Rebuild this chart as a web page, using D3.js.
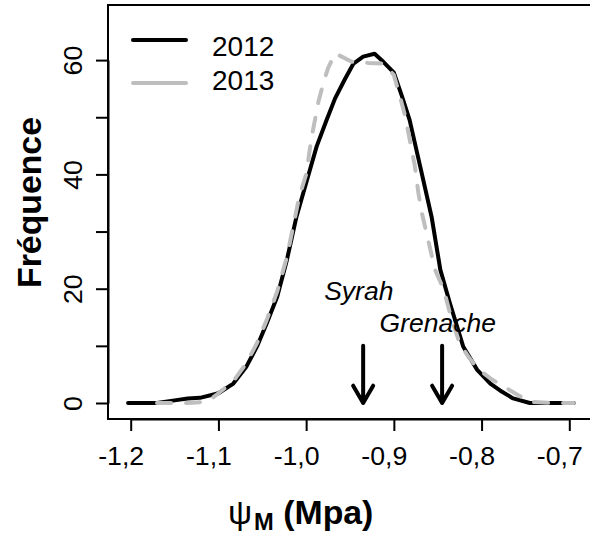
<!DOCTYPE html>
<html>
<head>
<meta charset="utf-8">
<script src="https://cdn.jsdelivr.net/npm/d3@7"></script>
<style>
  body { margin: 0; background: #fff; }
  svg { font-family: "Liberation Sans", Arial, sans-serif; }
</style>
</head>
<body>
<div class="chart"></div>
<script>
// 2012 frequency polygon (black, solid)
var x2012 = [-1.203, -1.17, -1.148, -1.135, -1.121, -1.100, -1.083, -1.068, -1.056, -1.045, -1.033, -1.022,
  -1.011, -1.000, -0.988, -0.977, -0.967, -0.956, -0.946, -0.935, -0.922, -0.912, -0.900, -0.891,
  -0.882, -0.870, -0.857, -0.847, -0.836, -0.821, -0.805, -0.790, -0.779, -0.764, -0.745, -0.72, -0.695];
var f2012 = [0, 0, 0.5, 0.8, 0.9, 1.7, 3.4, 6.4, 9.9, 13.9, 18.6, 25.0,
  32.6, 38.5, 44.9, 49.4, 53.3, 56.6, 59.4, 60.6, 61.1, 59.7, 57.8, 53.8,
  49.5, 41.4, 32.6, 23.3, 17.4, 9.9, 5.8, 3.4, 2.2, 0.8, 0, 0, 0];

// 2013 frequency polygon (grey, dashed)
var x2013 = [-1.17, -1.15, -1.135, -1.113, -1.100, -1.083, -1.068, -1.056, -1.045, -1.033, -1.022, -1.008,
  -1.000, -0.994, -0.986, -0.980, -0.975, -0.967, -0.948, -0.929, -0.912, -0.900, -0.893, -0.887,
  -0.881, -0.876, -0.872, -0.868, -0.853, -0.843, -0.836, -0.825, -0.815, -0.805, -0.790, -0.775,
  -0.762, -0.745, -0.72, -0.695];
var f2013 = [0, 0, 0, 0.2, 1.7, 3.8, 7.0, 10.5, 14.5, 19.5, 25.5, 36.0,
  40.0, 46.3, 52.7, 56.2, 58.6, 61.2, 59.7, 59.5, 59.4, 57.4, 53.6, 50.1,
  45.4, 41.4, 36.7, 33.2, 23.3, 19.8, 15.7, 10.4, 8.1, 6.1, 4.3, 2.9,
  1.7, 0.2, 0, 0];

var years = ["2012", "2013"];
var xTicks = [-1.2, -1.1, -1.0, -0.9, -0.8, -0.7];
var yTicks = [0, 10, 20, 30, 40, 50, 60];
var yLabelled = [0, 20, 40, 60];

// cultivar thresholds (arrows) and their labels
var cultivars = ["Syrah", "Grenache"];
var arrowX = [-0.935, -0.845];
var arrowFrom = 10, arrowTo = 0;
var labelX = [-0.94, -0.85];
var labelY = [19.6, 14.0];

var svgWidth = 590;
var svgHeight = 534;

var box = { left: 108, top: 5, right: 591, bottom: 419 };

var svg = d3.select(".chart")
  .append("svg")
  .attr("width", svgWidth)
  .attr("height", svgHeight);

// Scales
var xScale = d3.scaleLinear()
  .domain([-1.2, -0.7])
  .range([130.7, 569.3]);

var yScale = d3.scaleLinear()
  .domain([0, 60])
  .range([403, 60.1]);

// Axes
var bottomAxis = d3.axisBottom(xScale)
  .tickValues(xTicks)
  .tickSize(12)
  .tickSizeOuter(0)
  .tickFormat(d => d.toFixed(1).replace(".", ","));

var leftAxis = d3.axisLeft(yScale)
  .tickValues(yTicks)
  .tickSize(12)
  .tickSizeOuter(0)
  .tickFormat(d => yLabelled.indexOf(d) >= 0 ? String(d) : "");

var xAxisG = svg.append("g")
  .attr("transform", `translate(0, ${box.bottom})`)
  .call(bottomAxis);

xAxisG.selectAll("text")
  .attr("x", -10)
  .attr("y", 46)
  .attr("dy", 0)
  .style("font-size", "26.7px")
  .style("font-family", "'Liberation Sans', Arial, sans-serif")
  .attr("fill", "#000");

var yAxisG = svg.append("g")
  .attr("transform", `translate(${box.left}, 0)`)
  .call(leftAxis);

yAxisG.selectAll("text")
  .attr("transform", "rotate(-90)")
  .attr("x", 0)
  .attr("y", -26)
  .attr("dy", 0)
  .attr("text-anchor", "middle")
  .style("font-size", "26.7px")
  .style("font-family", "'Liberation Sans', Arial, sans-serif")
  .attr("fill", "#000");

svg.selectAll(".tick line").attr("stroke", "#000").attr("stroke-width", 2);
svg.selectAll(".domain").attr("stroke", "#000").attr("stroke-width", 2);

// Plot box
svg.append("rect")
  .attr("x", box.left)
  .attr("y", box.top)
  .attr("width", box.right - box.left)
  .attr("height", box.bottom - box.top)
  .attr("fill", "none")
  .attr("stroke", "#000")
  .attr("stroke-width", 2);

// Curves
var line = d3.line()
  .x(d => xScale(d[0]))
  .y(d => yScale(d[1]));

svg.append("path")
  .datum(d3.zip(x2012, f2012))
  .attr("d", line)
  .attr("fill", "none")
  .attr("stroke", "#000")
  .attr("stroke-width", 4)
  .attr("stroke-linejoin", "round")
  .attr("stroke-linecap", "round");

svg.append("path")
  .datum(d3.zip(x2013, f2013))
  .attr("d", line)
  .attr("fill", "none")
  .attr("stroke", "#bebebe")
  .attr("stroke-width", 4)
  .attr("stroke-dasharray", "14,15")
  .attr("stroke-linejoin", "round")
  .attr("stroke-linecap", "round");

// Arrows
arrowX.forEach(function (a) {
  var ax = xScale(a);
  var top = yScale(arrowFrom);
  var tip = yScale(arrowTo);
  svg.append("path")
    .attr("d", `M${ax},${top}L${ax},${tip}M${ax - 10},${tip - 17.3}L${ax},${tip}L${ax + 10},${tip - 17.3}`)
    .attr("fill", "none")
    .attr("stroke", "#000")
    .attr("stroke-width", 4)
    .attr("stroke-linejoin", "round")
    .attr("stroke-linecap", "round");
});

svg.selectAll(".cultivar")
  .data(cultivars)
  .enter()
  .append("text")
  .attr("class", "cultivar")
  .attr("x", (d, i) => xScale(labelX[i]))
  .attr("y", (d, i) => yScale(labelY[i]))
  .attr("dy", "0.35em")
  .attr("text-anchor", "middle")
  .style("font-size", "26.5px")
  .style("font-style", "italic")
  .text(d => d);

// Legend
var legendLineY = [40, 83];
var legendTextY = [46, 80];
var legendColor = ["#000", "#bebebe"];

years.forEach(function (yr, i) {
  svg.append("line")
    .attr("x1", 133).attr("x2", 186)
    .attr("y1", legendLineY[i]).attr("y2", legendLineY[i])
    .attr("stroke", legendColor[i])
    .attr("stroke-width", 4)
    .attr("stroke-linecap", "round");
  svg.append("text")
    .attr("x", 212)
    .attr("y", legendTextY[i])
    .attr("dy", "0.35em")
    .style("font-size", "28px")
    .text(yr);
});

// Axis titles
svg.append("text")
  .attr("transform", "translate(41, 202.5) rotate(-90)")
  .attr("text-anchor", "middle")
  .style("font-size", "33.8px")
  .style("font-weight", "bold")
  .text("Fréquence");

var xTitle = svg.append("text")
  .attr("x", 228)
  .attr("y", 524)
  .style("font-size", "33.8px");
xTitle.append("tspan").text("ψ");
xTitle.append("tspan")
  .attr("dy", 6)
  .attr("dx", 2)
  .style("font-size", "23.7px")
  .style("font-weight", "bold")
  .text("M");
xTitle.append("tspan")
  .attr("dy", -6)
  .style("font-weight", "bold")
  .text(" (Mpa)");
</script>
</body>
</html>
